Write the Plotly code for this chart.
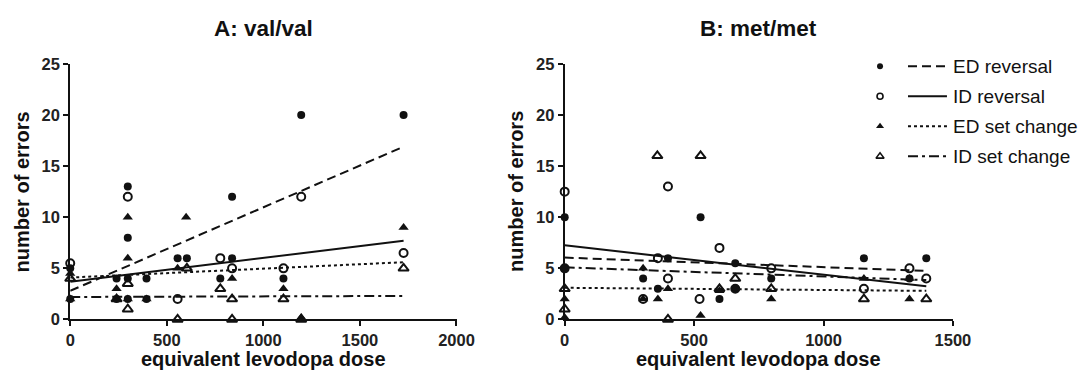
import plotly.graph_objects as go

W, H = 1091, 378
# The photographed page comes out slightly reduced and shifted, so layout positions
# are given in reference pixels and converted: obs_x = SX*fig_x + OX, obs_y = SY*fig_y + OY.
SX, OX = 0.98, 3.0
SY, OY = 0.95, 8.0

# ---------------- data: panel A (val/val) ----------------
a_ed_rev_x = [0, 0, 240, 240, 298, 298, 298, 298, 395, 395, 556, 604, 777, 838, 838, 1104, 1196, 1726]
a_ed_rev_y = [5, 2, 4, 2, 13, 8, 4, 2, 4, 2, 6, 6, 4, 12, 6, 4, 20, 20]
a_id_rev_x = [0, 298, 556, 777, 838, 1104, 1196, 1726]
a_id_rev_y = [5.5, 12, 2, 6, 5, 5, 12, 6.5]
a_ed_set_x = [0, 0, 240, 298, 298, 298, 395, 556, 600, 838, 1104, 1196, 1726]
a_ed_set_y = [4.5, 2, 3, 10, 6, 2, 2, 5, 10, 4, 3, 0.2, 9]
a_id_set_x = [0, 240, 298, 298, 556, 604, 777, 838, 838, 1104, 1196, 1726]
a_id_set_y = [4, 2, 3.5, 1, 0, 5, 3, 2, 0, 2, 0, 5]
a_fit_x = [0, 1726]
a_fit_ed_rev = [2.8, 16.9]
a_fit_id_rev = [3.7, 7.7]
a_fit_ed_set = [4.1, 5.6]
a_fit_id_set = [2.2, 2.3]

# ---------------- data: panel B (met/met) ----------------
b_ed_rev_x = [0, 0, 303, 360, 399, 525, 598, 659, 659, 798, 1156, 1332, 1397]
b_ed_rev_y = [10, 5, 4, 3, 6, 10, 2, 5.5, 3, 4, 6, 4, 6]
b_id_rev_x = [0, 0, 303, 360, 399, 399, 521, 598, 659, 798, 1156, 1332, 1397]
b_id_rev_y = [12.5, 5, 2, 6, 13, 4, 2, 7, 3, 5, 3, 5, 4]
b_ed_set_x = [0, 0, 303, 303, 360, 399, 525, 598, 798, 1156, 1332, 1332]
b_ed_set_y = [2, 0.2, 5, 2, 2, 3, 0.4, 2.8, 2, 4, 2, 4]
b_id_set_x = [0, 0, 358, 399, 525, 598, 659, 798, 1156, 1397]
b_id_set_y = [3, 1, 16, 0, 16, 3, 4, 3, 2, 2]
b_fit_x = [0, 1397]
b_fit_ed_rev = [6.05, 4.75]
b_fit_id_rev = [7.25, 3.25]
b_fit_ed_set = [3.1, 2.8]
b_fit_id_set = [5.1, 3.85]

series_names = ["ED reversal", "ID reversal", "ED set change", "ID set change"]
titles = ["A: val/val", "B: met/met"]
x_label = "equivalent levodopa dose"
y_label = "number of errors"
y_ticks = [0, 5, 10, 15, 20, 25]
a_x_ticks = [0, 500, 1000, 1500, 2000]
b_x_ticks = [0, 500, 1000, 1500]

# ---------------- styles ----------------
INK = "#111111"
FONT = "Liberation Sans, Arial, sans-serif"
symbols = ["circle", "circle-open", "triangle-up", "triangle-up-open"]
msizes = [8, 8, 9, 9]
dashes = ["9px,5px", "solid", "3px,3px", "10px,4px,3px,4px"]


def fx(x):
    return (x - OX) / SX


def fy(y):
    return (y - OY) / SY


def px(x):
    return fx(x) / W


def py(y):
    return 1 - fy(y) / H


fig = go.Figure()

panels = [
    ("x", "y",
     [(a_ed_rev_x, a_ed_rev_y), (a_id_rev_x, a_id_rev_y), (a_ed_set_x, a_ed_set_y), (a_id_set_x, a_id_set_y)],
     a_fit_x, [a_fit_ed_rev, a_fit_id_rev, a_fit_ed_set, a_fit_id_set]),
    ("x2", "y2",
     [(b_ed_rev_x, b_ed_rev_y), (b_id_rev_x, b_id_rev_y), (b_ed_set_x, b_ed_set_y), (b_id_set_x, b_id_set_y)],
     b_fit_x, [b_fit_ed_rev, b_fit_id_rev, b_fit_ed_set, b_fit_id_set]),
]

for xa, ya, pts, fxv, fits in panels:
    for i, fyv in enumerate(fits):
        fig.add_trace(go.Scatter(
            x=fxv, y=fyv, mode="lines", xaxis=xa, yaxis=ya, showlegend=False,
            line=dict(color=INK, width=2, dash=dashes[i]), cliponaxis=False))
    for i, (px_, py_) in enumerate(pts):
        fig.add_trace(go.Scatter(
            x=px_, y=py_, mode="markers", xaxis=xa, yaxis=ya, showlegend=False,
            marker=dict(symbol=symbols[i], size=msizes[i], color=INK,
                        line=dict(color=INK, width=2 if "open" in symbols[i] else 0)),
            cliponaxis=False))

# ---------------- legend (overlay axis in reference-pixel units) ----------------
leg_marker_x = 879
leg_line_x = [907, 946]
leg_text_x = 950
leg_rows_y = [65, 95, 125, 155]
leg_msizes = [6, 6, 7, 7]
for i, name in enumerate(series_names):
    yy = leg_rows_y[i]
    fig.add_trace(go.Scatter(
        x=leg_line_x, y=[yy, yy], mode="lines", xaxis="x3", yaxis="y3", showlegend=False,
        line=dict(color=INK, width=2, dash=dashes[i])))
    fig.add_trace(go.Scatter(
        x=[leg_marker_x], y=[yy], mode="markers", xaxis="x3", yaxis="y3", showlegend=False,
        marker=dict(symbol=symbols[i], size=leg_msizes[i], color=INK,
                    line=dict(color=INK, width=1.6 if "open" in symbols[i] else 0))))

y_dom = [py(317.7), py(62.7)]
axis_common = dict(showline=True, linecolor=INK, linewidth=2, ticks="outside", ticklen=5,
                   tickwidth=2, tickcolor=INK, showgrid=False, zeroline=False,
                   tickfont=dict(family=FONT, size=16.5, color="#222222", weight="bold"))

fig.update_layout(
    width=W, height=H,
    margin=dict(l=0, r=0, t=0, b=0),
    paper_bgcolor="white", plot_bgcolor="rgba(0,0,0,0)",
    xaxis=dict(domain=[px(68.3), px(455)], range=[0, 2000], tickvals=a_x_ticks,
               anchor="y", **axis_common),
    yaxis=dict(domain=y_dom, range=[0, 25], tickvals=y_ticks, anchor="x", **axis_common),
    xaxis2=dict(domain=[px(563.3), px(952)], range=[0, 1500], tickvals=b_x_ticks,
                anchor="y2", **axis_common),
    yaxis2=dict(domain=y_dom, range=[0, 25], tickvals=y_ticks, anchor="x2", **axis_common),
    xaxis3=dict(domain=[0, 1], range=[OX, OX + W * SX], visible=False, anchor="y3", fixedrange=True),
    yaxis3=dict(domain=[0, 1], range=[OY + H * SY, OY], visible=False, anchor="x3", fixedrange=True),
    showlegend=False,
)

ann = []
for cx, t in zip([262, 757], titles):
    ann.append(dict(x=px(cx), y=py(27), xref="paper", yref="paper", text=t, showarrow=False,
                    font=dict(family=FONT, size=22.5, color=INK, weight="bold"),
                    xanchor="center", yanchor="middle"))
for cx in [262, 757]:
    ann.append(dict(x=px(cx), y=py(357), xref="paper", yref="paper", text=x_label, showarrow=False,
                    font=dict(family=FONT, size=20, color=INK, weight="bold"),
                    xanchor="center", yanchor="middle"))
for cx in [20, 515]:
    ann.append(dict(x=px(cx), y=py(190), xref="paper", yref="paper", text=y_label, showarrow=False,
                    textangle=-90,
                    font=dict(family=FONT, size=20, color=INK, weight="bold"),
                    xanchor="center", yanchor="middle"))
for i, name in enumerate(series_names):
    ann.append(dict(x=px(leg_text_x), y=py(leg_rows_y[i]), xref="paper", yref="paper", text=name,
                    showarrow=False, font=dict(family=FONT, size=19, color=INK),
                    xanchor="left", yanchor="middle"))
fig.update_layout(annotations=ann)

fig.write_html("out.html")
